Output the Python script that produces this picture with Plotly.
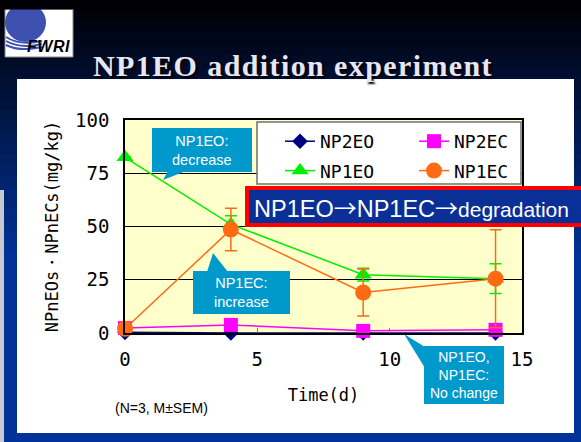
import plotly.graph_objects as go

W, H = 581, 442

# ---------------- data ----------------
time_d = [0, 4, 9, 14]
np2eo = [0.3, 0.0, 0.0, 0.0]
np2ec = [2.3, 3.8, 1.0, 1.5]
np1eo = [82.5, 51.0, 27.4, 25.5]
np1eo_sem = [0.0, 4.0, 3.0, 7.0]
np1ec = [2.0, 48.6, 19.0, 25.5]
np1ec_sem = [0.0, 10.0, 11.0, 23.0]

x_ticks = [0, 5, 10, 15]
y_ticks = [0, 25, 50, 75, 100]


def px(x):
    return x / W


def py(y):
    return 1 - y / H


fig = go.Figure()

mono = "DejaVu Sans Mono"

fig.add_trace(go.Scatter(x=time_d, y=np2eo, name="NP2EO", mode="lines+markers",
                         line=dict(color="#000080", width=1.5),
                         marker=dict(symbol="diamond", size=12, color="#000080"),
                         cliponaxis=False, legend="legend", legendgroup="a"))
fig.add_trace(go.Scatter(x=time_d, y=np2ec, name="NP2EC", mode="lines+markers",
                         line=dict(color="#FF00FF", width=1.5),
                         marker=dict(symbol="square", size=14, color="#FF00FF"),
                         cliponaxis=False, legend="legend2", legendgroup="b"))
fig.add_trace(go.Scatter(x=time_d, y=np1eo, name="NP1EO", mode="lines+markers",
                         line=dict(color="#00EE00", width=1.5),
                         marker=dict(symbol="triangle-up", size=15, color="#00EE00"),
                         error_y=dict(type="data", array=np1eo_sem, color="#00EE00",
                                      thickness=1.5, width=6),
                         cliponaxis=False, legend="legend", legendgroup="c"))
fig.add_trace(go.Scatter(x=time_d, y=np1ec, name="NP1EC", mode="lines+markers",
                         line=dict(color="#FF6A13", width=1.5),
                         marker=dict(symbol="circle", size=16, color="#FF6A13"),
                         error_y=dict(type="data", array=np1ec_sem, color="#FF6A13",
                                      thickness=1.5, width=6),
                         cliponaxis=False, legend="legend2", legendgroup="d"))

shapes = []
# slide background gradient (dark top -> blue)
c0 = (0, 0, 6)
c1 = (0, 51, 153)
n = 24
for i in range(n):
    t = i / (n - 1)
    col = tuple(int(c0[k] + (c1[k] - c0[k]) * t) for k in range(3))
    shapes.append(dict(type="rect", xref="paper", yref="paper", layer="below",
                       x0=0, x1=1, y0=py(i * 11), y1=py(i * 11 + 12),
                       line=dict(width=0), fillcolor="rgb(%d,%d,%d)" % col))
# thin grey strip on left edge
shapes.append(dict(type="rect", xref="paper", yref="paper", layer="below",
                   x0=0, x1=px(4), y0=py(442), y1=py(190),
                   line=dict(width=0), fillcolor="#C8C8D0"))
# white panel
shapes.append(dict(type="rect", xref="paper", yref="paper", layer="below",
                   x0=px(17), x1=px(574), y0=py(433), y1=py(79),
                   line=dict(width=0), fillcolor="white"))
# logo
shapes.append(dict(type="rect", xref="paper", yref="paper", layer="below",
                   x0=px(5), x1=px(73), y0=py(57), y1=py(9),
                   line=dict(width=1, color="#888888"), fillcolor="white"))
shapes.append(dict(type="circle", xref="paper", yref="paper", layer="below",
                   x0=px(5), x1=px(46), y0=py(42), y1=py(3),
                   line=dict(width=0), fillcolor="#3F51B0"))
shapes.append(dict(type="rect", xref="paper", yref="paper", layer="below",
                   x0=px(3), x1=px(73), y0=py(9.5), y1=py(2),
                   line=dict(width=0), fillcolor="rgb(0,0,6)"))
for k in range(3):
    shapes.append(dict(type="path", xref="paper", yref="paper", layer="below",
                       path="M %f,%f Q %f,%f %f,%f" % (px(6), py(37 + 4 * k), px(20), py(46 + 3 * k),
                                                        px(42), py(41 + 3 * k)),
                       line=dict(width=2, color="#3F51B0")))
# plot area background
shapes.append(dict(type="rect", xref="x domain", yref="y domain", layer="below",
                   x0=0, x1=1, y0=0, y1=1, line=dict(width=0), fillcolor="#FFFFCC"))
# legend box
shapes.append(dict(type="rect", xref="paper", yref="paper", layer="above",
                   x0=px(257), x1=px(521), y0=py(184), y1=py(122),
                   line=dict(width=1.5, color="#707070"), fillcolor="white"))
# callouts
teal = "#0099CC"
shapes.append(dict(type="rect", xref="paper", yref="paper", layer="above",
                   x0=px(152), x1=px(252), y0=py(172), y1=py(128),
                   line=dict(width=0), fillcolor=teal))


def tri(pts):
    s = "M " + " L ".join("%f,%f" % (px(a), py(b)) for a, b in pts) + " Z"
    return dict(type="path", xref="paper", yref="paper", layer="above", path=s,
                line=dict(width=0), fillcolor=teal)


shapes.append(tri([(168, 171), (186, 171), (163, 180)]))
shapes.append(dict(type="rect", xref="paper", yref="paper", layer="above",
                   x0=px(193), x1=px(290), y0=py(314), y1=py(271),
                   line=dict(width=0), fillcolor=teal))
shapes.append(tri([(207, 272), (228, 272), (213, 253)]))
shapes.append(dict(type="rect", xref="paper", yref="paper", layer="above",
                   x0=px(424), x1=px(504), y0=py(404), y1=py(346),
                   line=dict(width=0), fillcolor=teal))
shapes.append(tri([(404, 334), (425, 347), (425, 368)]))
# banner
shapes.append(dict(type="rect", xref="paper", yref="paper", layer="above",
                   x0=px(245), x1=px(585), y0=py(227), y1=py(186),
                   line=dict(width=0), fillcolor="#FF0000"))
shapes.append(dict(type="rect", xref="paper", yref="paper", layer="above",
                   x0=px(249), x1=px(585), y0=py(223), y1=py(190),
                   line=dict(width=0), fillcolor="#0A2F96"))

ann = []


def note(text, x, y, size, color, family, xanchor="center", yanchor="middle", shadow="none"):
    ann.append(dict(text=text, x=px(x), y=py(y), xref="paper", yref="paper",
                    xanchor=xanchor, yanchor=yanchor, showarrow=False,
                    font=dict(family=family, size=size, color=color, shadow=shadow)))


title = '<span style="letter-spacing:1.4px">NP1EO addition experiment</span>'
note("<b>" + title + "</b>", 293, 65, 30, "#E6E6F4", "Liberation Serif",
     shadow="2px 2px 2px #000000")
note('<b><i><span style="letter-spacing:0.5px">FWRI</span></i></b>', 48, 47, 16,
     "#000000", "Liberation Sans")
sans = "Liberation Sans"
note("NP1EO:<br>decrease", 202, 150, 14.5, "white", sans)
note("NP1EC:<br>increase", 241, 292, 14.5, "white", sans)
note("NP1EO,<br>NP1EC:<br>No change", 464, 375, 14, "white", sans)
arrow = '<span style="font-family:Noto Sans CJK JP;font-size:23px">\u2192</span>'
big = '<span style="font-size:23.5px">%s</span>'
note(big % "NP1EO" + arrow + big % "NP1EC" + arrow + "degradation", 252, 207, 21, "white",
     sans, xanchor="left")
note("(N=3, M\u00b1SEM)", 113, 408, 14, "#000000", sans, xanchor="left")

fig.update_layout(
    width=W, height=H,
    margin=dict(l=0, r=0, t=0, b=0),
    paper_bgcolor="#003399",
    plot_bgcolor="rgba(0,0,0,0)",
    shapes=shapes,
    annotations=ann,
    showlegend=True,
    legend=dict(x=px(280), y=py(123), xanchor="left", yanchor="top",
                bgcolor="rgba(0,0,0,0)", borderwidth=0,
                font=dict(family=mono, size=18, color="black"),
                traceorder="grouped", tracegroupgap=3),
    legend2=dict(x=px(414), y=py(123), xanchor="left", yanchor="top",
                 bgcolor="rgba(0,0,0,0)", borderwidth=0,
                 font=dict(family=mono, size=18, color="black"),
                 traceorder="grouped", tracegroupgap=3),
    xaxis=dict(domain=[px(125), px(522)], range=[0, 15], tickvals=x_ticks,
               ticks="inside", ticklen=5, tickcolor="#808080",
               showline=True, mirror=True, linecolor="black", linewidth=1.5,
               showgrid=False, zeroline=False, automargin=False,
               tickfont=dict(family=mono, size=19, color="black"),
               ticklabelstandoff=8,
               title=dict(text="Time(d)", font=dict(family=mono, size=17, color="black"),
                          standoff=21)),
    yaxis=dict(domain=[py(333), py(120)], range=[0, 100], tickvals=y_ticks,
               ticks="", showline=True, mirror=True, linecolor="black", linewidth=1.5,
               showgrid=True, gridcolor="black", gridwidth=1, zeroline=False,
               automargin=False,
               tickfont=dict(family=mono, size=19, color="black"),
               ticklabelstandoff=10,
               title=dict(text="NPnEOs\u30fbNPnECs(mg/kg)",
                          font=dict(family=mono, size=17, color="black"), standoff=12)),
)

fig.write_html("out.html", config={"displayModeBar": False},
               post_script="document.body.style.margin='0px';")
